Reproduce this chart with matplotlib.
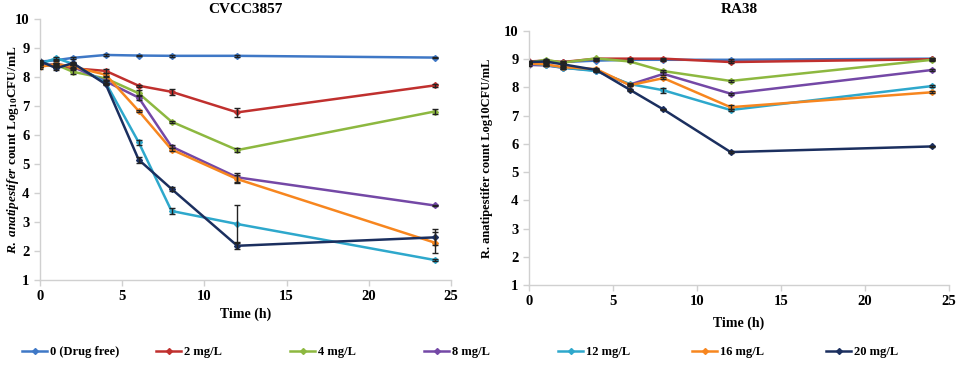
import matplotlib
matplotlib.use("Agg")
import matplotlib.pyplot as plt
import numpy as np

plt.rcParams['font.family'] = ['Liberation Serif', 'DejaVu Serif']
plt.rcParams['font.weight'] = 'bold'
plt.rcParams['mathtext.fontset'] = 'custom'
plt.rcParams['mathtext.rm'] = 'Liberation Serif:bold'
plt.rcParams['mathtext.bf'] = 'Liberation Serif:bold'
plt.rcParams['mathtext.it'] = 'Liberation Serif:italic:bold'

time_h = [0, 1, 2, 4, 6, 8, 12, 24]
series_labels = ["0 (Drug free)", "2 mg/L", "4 mg/L", "8 mg/L", "12 mg/L", "16 mg/L", "20 mg/L"]
colors = ["#3F78C6", "#C0302E", "#8DB840", "#7448A6", "#2EA8CC", "#F7861F", "#1B2F5F"]

# CVCC3857
cvcc_vals = [
    [8.53, 8.58, 8.66, 8.76, 8.74, 8.73, 8.73, 8.67],
    [8.40, 8.40, 8.30, 8.21, 7.70, 7.49, 6.78, 7.71],
    [8.40, 8.42, 8.18, 7.95, 7.44, 6.46, 5.48, 6.81],
    [8.40, 8.45, 8.35, 7.85, 7.29, 5.60, 4.54, 3.57],
    [8.45, 8.65, 8.45, 7.80, 5.75, 3.38, 2.93, 1.69],
    [8.35, 8.45, 8.35, 8.08, 6.83, 5.50, 4.48, 2.29],
    [8.55, 8.30, 8.48, 7.75, 5.15, 4.14, 2.18, 2.47],
]
cvcc_err = [
    [0.03, 0.03, 0.03, 0.03, 0.03, 0.03, 0.04, 0.02],
    [0.05, 0.05, 0.05, 0.08, 0.04, 0.10, 0.15, 0.04],
    [0.05, 0.05, 0.08, 0.05, 0.10, 0.04, 0.06, 0.07],
    [0.04, 0.05, 0.05, 0.05, 0.10, 0.06, 0.15, 0.03],
    [0.04, 0.05, 0.04, 0.05, 0.08, 0.10, 0.66, 0.02],
    [0.06, 0.05, 0.05, 0.05, 0.04, 0.06, 0.15, 0.35],
    [0.04, 0.06, 0.04, 0.04, 0.10, 0.07, 0.12, 0.28],
]

# RA38
ra38_vals = [
    [8.87, 8.90, 8.90, 8.95, 8.98, 8.98, 8.98, 9.02],
    [8.92, 8.95, 8.90, 9.02, 9.02, 9.02, 8.90, 9.00],
    [8.88, 8.98, 8.88, 9.03, 8.92, 8.58, 8.23, 8.98],
    [8.80, 8.78, 8.70, 8.60, 8.10, 8.48, 7.78, 8.62],
    [8.85, 8.80, 8.70, 8.58, 8.12, 7.90, 7.20, 8.05],
    [8.85, 8.82, 8.72, 8.65, 8.08, 8.33, 7.30, 7.83],
    [8.90, 8.92, 8.82, 8.62, 7.92, 7.22, 5.71, 5.91],
]
ra38_err = [
    [0.03, 0.03, 0.03, 0.03, 0.03, 0.03, 0.04, 0.03],
    [0.03, 0.03, 0.03, 0.03, 0.03, 0.03, 0.03, 0.03],
    [0.03, 0.03, 0.03, 0.03, 0.03, 0.03, 0.03, 0.03],
    [0.03, 0.03, 0.03, 0.03, 0.03, 0.05, 0.03, 0.03],
    [0.03, 0.03, 0.03, 0.03, 0.03, 0.08, 0.04, 0.03],
    [0.03, 0.03, 0.03, 0.05, 0.03, 0.04, 0.08, 0.03],
    [0.03, 0.03, 0.03, 0.03, 0.03, 0.03, 0.05, 0.03],
]

W, H = 957, 366
fig = plt.figure(figsize=(W / 100, H / 100), dpi=100)
ax1 = fig.add_axes([40 / W, 1 - 280 / H, 411 / W, 261 / H])
ax2 = fig.add_axes([529 / W, 1 - 285 / H, 420 / W, 254 / H])

def draw(ax, vals, errs):
    handles = []
    for v, e, c, lab in zip(vals, errs, colors, series_labels):
        ax.errorbar(time_h, v, yerr=e, fmt='none', ecolor='#222222',
                    elinewidth=1.0, capsize=2.5, capthick=1.0, zorder=3)
        h, = ax.plot(time_h, v, color=c, lw=1.8, marker='D', markersize=3,
                     markerfacecolor=c, markeredgecolor=c, label=lab, zorder=2)
        handles.append(h)
    ax.set_xlim(0, 25)
    ax.set_ylim(1, 10)
    ax.set_xticks([0, 5, 10, 15, 20, 25])
    ax.set_yticks(range(1, 11))
    for s in ['top', 'right']:
        ax.spines[s].set_visible(False)
    for s in ['left', 'bottom']:
        ax.spines[s].set_color('#D0D0D0')
        ax.spines[s].set_linewidth(1.0)
    ax.tick_params(axis='both', colors='#D0D0D0', labelcolor='black',
                   labelsize=10.5, length=4, width=1.0)
    for t in ax.get_xticklabels() + ax.get_yticklabels():
        t.set_fontweight('bold')
    return handles

handles = draw(ax1, cvcc_vals, cvcc_err)
draw(ax2, ra38_vals, ra38_err)

ax1.set_title("CVCC3857", fontsize=11, fontweight='bold', pad=4)
ax2.set_title("RA38", fontsize=11, fontweight='bold', pad=13)
ax1.set_xlabel("Time (h)", fontsize=10, fontweight='bold', labelpad=3)
ax2.set_xlabel("Time (h)", fontsize=10, fontweight='bold', labelpad=6)

ax1.set_ylabel(r"$\mathit{R.\ anatipestifer}$ count Log$_{10}$CFU/mL",
               fontsize=9.5, fontweight='bold')
ax1.yaxis.set_label_coords(-0.047, 0.5)
ax2.set_ylabel("R. anatipestifer count Log10CFU/mL", fontsize=9, fontweight='bold')
ax2.yaxis.set_label_coords(-0.086, 0.5)

# legend: one entry every ~134 px across the bottom
leg_x = [22, 156, 290, 424, 558, 692, 826]
for h, lab, x in zip(handles, series_labels, leg_x):
    fig.legend(handles=[h], labels=[lab], loc='center left',
               bbox_to_anchor=(x / W, 1 - 352 / H), frameon=False,
               handlelength=2.0, handletextpad=0.2, borderpad=0, borderaxespad=0,
               prop={'weight': 'bold', 'size': 9})

fig.savefig("out.png", dpi=100)
